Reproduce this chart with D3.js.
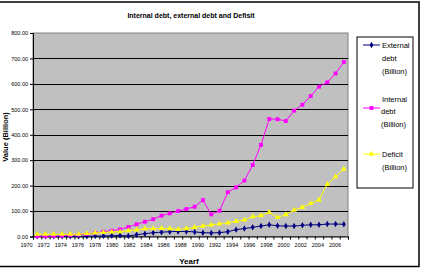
<!DOCTYPE html>
<html><head><meta charset="utf-8">
<script src="https://cdn.jsdelivr.net/npm/d3@7/dist/d3.min.js"></script>
<style>html,body{margin:0;padding:0;background:#fff;}svg{display:block;font-family:"Liberation Sans",Arial,sans-serif;}</style>
</head><body>
<svg id="c" width="424" height="274"></svg>
<script>
const years = d3.range(1970, 2008);
const labelYears = d3.range(1970, 2007, 2);
const yTicks = [0,100,200,300,400,500,600,700,800];
const externalDebt = [0.5,0.5,0.6,0.7,0.8,1,1.2,1.5,2,3,4,2,7,11,15,17,19,20,20,18,15,14,15,19,27,31,36,41,46,42,41,41,44,46,46,49,49,48];
const internalDebt = [1,1,2,3,5,7,10,14,19,23,28,37,48,58,68,82,91,100,108,117,143,87,101,174,193,220,281,360,462,461,454,495,518,552,589,606,641,686];
const deficit = [9,9,9,9,9,9,12,14,16,18,19,23,26,31,31,32,31,28,31,36,41,46,50,54,60,65,78,82,95,75,86,104,115,130,144,205,235,265];
const seriesNames = [["External","debt","(Billion)"],["Internal","debt","(Billion)"],["Deficit","(Billion)"]];

const svg = d3.select("#c");
const X0 = 33, X1 = 348, Y0 = 33, Y1 = 236.5;

// outer frame
svg.append("rect").attr("x",-2).attr("y",2).attr("width",421).attr("height",264.5)
  .attr("fill","#fff").attr("stroke","#000").attr("stroke-width",1.5);

const x = d3.scaleBand().domain(years).range([X0, X1]);
const xc = d => x(d) + x.bandwidth()/2;
const y = d3.scaleLinear().domain([0,800]).range([Y1, Y0]);
const xb = d3.scaleLinear().domain([0, years.length]).range([X0, X1]);
const xl = d3.scaleLinear().domain([1970, 2006]).range([26, 334.5]);

svg.append("rect").attr("x",X0).attr("y",Y0).attr("width",X1-X0).attr("height",Y1-Y0)
  .attr("fill","#C0C0C0").attr("stroke","#808080").attr("stroke-width",1);

// gridlines
svg.append("g").selectAll("line").data(yTicks.filter(v=>v>0 && v<800)).join("line")
  .attr("x1",X0).attr("x2",X1).attr("y1",d=>Math.round(y(d))+0.5).attr("y2",d=>Math.round(y(d))+0.5)
  .attr("stroke","#000").attr("stroke-width",1);

// y axis
const ya = svg.append("g").attr("transform",`translate(${X0},0)`)
  .call(d3.axisLeft(y).tickValues(yTicks).tickFormat(d3.format(".2f")).tickSize(3).tickPadding(2));
ya.select(".domain").attr("stroke","#000");
ya.selectAll("text").attr("font-size","5.5px").attr("fill","#000").attr("font-family","Liberation Sans, Arial, sans-serif");

// x axis ticks
const xa = svg.append("g").attr("transform",`translate(0,${Y1})`)
  .call(d3.axisBottom(xb).tickValues(d3.range(0, years.length+1)).tickFormat("").tickSize(3));
xa.select(".domain").attr("stroke","#000");
// x labels
const xla = svg.append("g").attr("transform",`translate(0,${Y1})`)
  .call(d3.axisBottom(xl).tickValues(labelYears).tickFormat(d3.format("d")).tickSize(0).tickPadding(7));
xla.select(".domain").remove();
xla.selectAll("text").attr("font-size","5.5px").attr("fill","#000").attr("font-family","Liberation Sans, Arial, sans-serif");

const line = d3.line().x((d,i)=>xc(years[i])).y(d=>y(d));
const series = [
  {data: externalDebt, color:"#000080", sym:d3.symbolDiamond, size:12},
  {data: internalDebt, color:"#FF00FF", sym:d3.symbolSquare, size:15},
  {data: deficit, color:"#FFFF00", sym:d3.symbolTriangle, size:14}
];
series.forEach(s=>{
  svg.append("path").attr("d",line(s.data)).attr("fill","none").attr("stroke",s.color).attr("stroke-width",1);
  svg.append("g").selectAll("path").data(s.data).join("path")
    .attr("transform",(d,i)=>`translate(${xc(years[i])},${y(d)})`)
    .attr("d",d3.symbol().type(s.sym).size(s.size)).attr("fill",s.color);
});

// title
svg.append("text").attr("x",191).attr("y",18).attr("text-anchor","middle")
  .attr("font-size","7px").attr("font-weight","bold").text("Internal debt, external debt and Defisit");
// axis titles
svg.append("text").attr("transform","translate(7.5,137) rotate(-90)").attr("text-anchor","middle")
  .attr("font-size","7.5px").attr("font-weight","bold").text("Value (Billion)");
svg.append("text").attr("x",189).attr("y",264).attr("text-anchor","middle")
  .attr("font-size","8px").attr("font-weight","bold").text("Yearf");

// legend
const lg = svg.append("g");
lg.append("rect").attr("x",357).attr("y",37).attr("width",56).attr("height",151)
  .attr("fill","#fff").attr("stroke","#000").attr("stroke-width",1);
const legendRows = [
  {lineY:45, textYs:[45,58,71], textX:[382,382,382]},
  {lineY:108, textYs:[99,111,124], textX:[382,381,381]},
  {lineY:154, textYs:[154,167], textX:[382,382]}
];
series.forEach((s,k)=>{
  const r = legendRows[k];
  lg.append("line").attr("x1",363).attr("x2",380).attr("y1",r.lineY).attr("y2",r.lineY)
    .attr("stroke",s.color).attr("stroke-width",1);
  lg.append("path").attr("transform",`translate(371.5,${r.lineY})`)
    .attr("d",d3.symbol().type(s.sym).size(s.size)).attr("fill",s.color);
  seriesNames[k].forEach((t,j)=>{
    lg.append("text").attr("x",r.textX[j]).attr("y",r.textYs[j]).attr("dy","0.35em")
      .attr("font-size","7.5px").text(t);
  });
});
</script>
</body></html>
